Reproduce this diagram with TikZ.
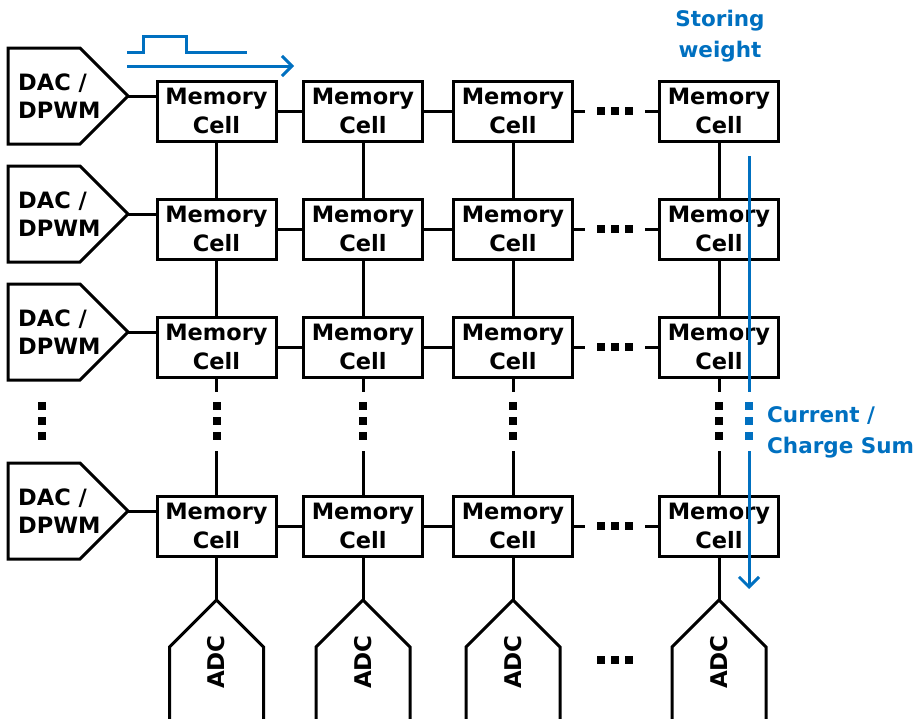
\documentclass[tikz,border=0pt]{standalone}
\usepackage{fontspec}
\setmainfont{DejaVu Sans}
\usetikzlibrary{arrows.meta}
\definecolor{wblue}{RGB}{0,112,192}
\begin{document}
\begin{tikzpicture}[x=1pt,y=-1pt,
  cell/.style={draw, line width=3pt, minimum width=119pt, minimum height=60pt, inner sep=0pt, align=center, font=\bfseries\fontsize{22.5}{29}\selectfont},
  wire/.style={line width=3pt},
  bwire/.style={draw=wblue, line width=3pt},
  dactext/.style={align=left, anchor=west, inner sep=0pt, font=\bfseries\fontsize{22.5}{28}\selectfont},
  adctext/.style={rotate=90, inner sep=0pt, font=\bfseries\fontsize{23}{28}\selectfont},
  btext/.style={text=wblue, inner sep=0pt, font=\bfseries\fontsize{21.5}{31}\selectfont},
  barb/.style={-{Straight Barb[length=10pt,width=20pt]}}
]
\useasboundingbox (0,0) rectangle (920,718);
% cells
\foreach \r/\y in {1/111,2/229,3/347,5/526}{
  \foreach \c/\x in {1/216.5,2/363,3/513,4/719}{
    \node[cell] (c-\r-\c) at (\x,\y) {Memory\\Cell};
  }
  % DAC
  \draw[wire, line join=miter] (8,\y-63) -- (80,\y-63) -- (128,\y-15) -- (80,\y+33) -- (8,\y+33) -- cycle;
  \coordinate (tip-\r) at (128,\y-15);
  \node[dactext] (dac-\r) at (18,\y-15) {DAC /\\DPWM};
  \draw[wire] (tip-\r) -- (tip-\r -| c-\r-1.west);
  % horizontal links
  \draw[wire] (c-\r-1.east) -- (c-\r-2.west);
  \draw[wire] (c-\r-2.east) -- (c-\r-3.west);
  \coordinate (h1-\r) at (585,\y);
  \coordinate (h2-\r) at (645,\y);
  \draw[wire] (c-\r-3.east) -- (h1-\r);
  \draw[wire] (h2-\r) -- (c-\r-4.west);
  \foreach \d in {601,615,629}{ \fill (\d-4,\y-4) rectangle (\d+4,\y+4); }
}
% vertical links, ADCs
\foreach \c/\x in {1/216.5,2/363,3/513,4/719}{
  \draw[wire] (c-1-\c) -- (c-2-\c);
  \draw[wire] (c-2-\c) -- (c-3-\c);
  \coordinate (v1-\c) at (\x,392);
  \coordinate (v2-\c) at (\x,451);
  \draw[wire] (c-3-\c.south) -- (v1-\c);
  \draw[wire] (v2-\c) -- (c-5-\c.north);
  \foreach \d in {406,421,436}{ \fill (\x-4,\d-4) rectangle (\x+4,\d+4); }
  \coordinate (adctip-\c) at (\x,600);
  \draw[wire] (c-5-\c.south) -- (adctip-\c);
  \draw[wire, line join=miter] (\x-47,722) -- (\x-47,647) -- (adctip-\c) -- (\x+47,647) -- (\x+47,722);
  \node[adctext] (adc-\c) at (\x,662) {ADC};
}
% left dots
\foreach \d in {406,421,436}{ \fill (42-4,\d-4) rectangle (42+4,\d+4); }
% bottom dots
\foreach \d in {601,615,629}{ \fill (\d-4,660-4) rectangle (\d+4,660+4); }
% blue annotations
\coordinate (p0) at (127,52);
\coordinate (p1) at (247,52);
\draw[bwire] (p0) -- (143,52) -- (143,36) -- (186,36) -- (186,52) -- (p1);
\coordinate (a0) at (127,66);
\coordinate (a1) at (294,66);
\draw[bwire, barb] (a0) -- (a1);
\node[btext, align=center] (store) at (720,36) {Storing\\weight};
\coordinate (b0) at (749,156);
\coordinate (b1) at (749,392);
\coordinate (b2) at (749,451);
\coordinate (b3) at (749,589);
\draw[bwire] (b0) -- (b1);
\draw[bwire, barb] (b2) -- (b3);
\foreach \d in {406,421,436}{ \fill[wblue] (749-4,\d-4) rectangle (749+4,\d+4); }
\node[btext, align=left, anchor=west] (sum) at (767,432) {Current /\\Charge Sum};
\end{tikzpicture}
\end{document}
